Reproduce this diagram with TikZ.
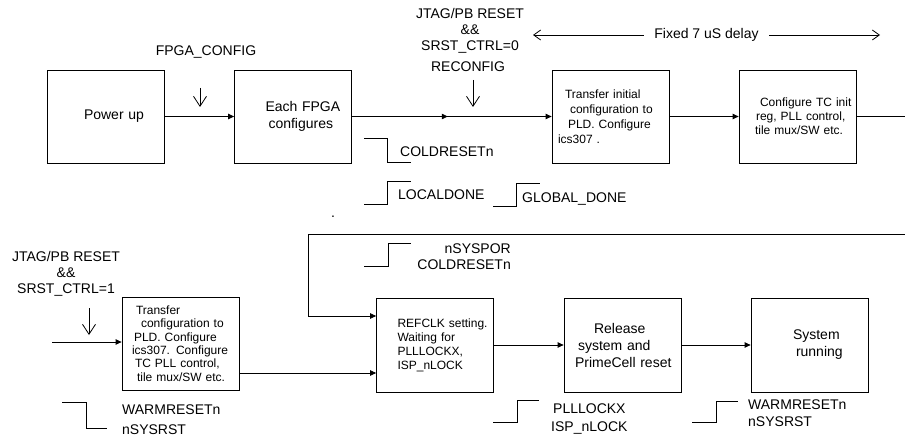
\documentclass[tikz,border=0pt]{standalone}
\usepackage{fontspec}
\setmainfont{Liberation Sans}
\usepackage{tikz}
\usetikzlibrary{arrows.meta}
\usetikzlibrary{decorations.markings}

\tikzset{
  box/.style={draw, line width=0.8pt, minimum height=93pt, text width=109pt,
    inner xsep=4pt, align=left, font=\fontsize{12}{14}\selectfont},
  bigbox/.style={box, font=\fontsize{14}{17}\selectfont},
  lbl/.style={font=\fontsize{14}{16}\selectfont, inner sep=0pt},
  wire/.style={line width=0.8pt},
  conn/.style={line width=0.8pt, -{Triangle[length=6pt,width=5.5pt]}},
  sig/.style={line width=0.8pt, -{Straight Barb[length=10pt,width=13pt]}},
  delayarr/.style={line width=0.8pt,
    {Straight Barb[length=7pt,width=10pt]}-{Straight Barb[length=7pt,width=10pt]}},
  midarrow/.style={postaction={decorate}, decoration={markings,
    mark=at position #1 with {\arrow{Triangle[length=6pt,width=5.5pt]}}}},
}

\begin{document}
\begin{tikzpicture}[x=1pt, y=-1pt]
      \useasboundingbox (0,0) rectangle (905,441);
      \node[bigbox] (pwr) at (105.5,116.5) {\hspace*{33pt}Power up};
      \node[bigbox] (fpga) at (293,116.5) {\hspace*{27pt}Each FPGA\\\hspace*{30pt}configures};
      \node[box, font=\fontsize{12}{15}\selectfont] (xferinit) at (610.5,116.5)
        {\hspace*{9pt}Transfer initial\\\hspace*{14pt}configuration to\\\hspace*{12pt}PLD. Configure\\\hspace*{2pt}ics307 .};
      \node[box] (tcinit) at (797.5,116.5)
        {\hspace*{17pt}Configure TC init\\\hspace*{13pt}reg,  PLL control,\\\hspace*{12pt}tile mux/SW etc.};
      \node[box, font=\fontsize{12}{13.3}\selectfont] (xfercfg) at (180.5,343.5)
        {\hspace*{10pt}Transfer\\\hspace*{15pt}configuration to\\\hspace*{8pt}PLD. Configure\\\hspace*{6pt}ics307. Configure\\\hspace*{9pt}TC  PLL control,\\\hspace*{11pt}tile mux/SW etc.};
      \node[box, minimum height=94pt] (refclk) at (435,345)
        {\hspace*{17pt}REFCLK setting.\\\hspace*{17pt}Waiting for\\\hspace*{17pt}PLLLOCKX,\\\hspace*{17pt}ISP\_nLOCK};
      \node[bigbox, minimum height=94pt] (release) at (622.5,345)
        {\hspace*{26pt}Release\\\hspace*{10pt}system and\\\hspace*{7pt}PrimeCell reset};
      \node[bigbox, minimum height=94pt] (running) at (809.5,345)
        {\hspace*{38pt}System\\\hspace*{41pt}running};

      \coordinate (edgetop) at (905,116.5);
      \coordinate (edgeret) at (905,234);
      \coordinate (inleft) at (52,342);
      \draw[conn] (pwr) -- (fpga);
      \draw[conn, midarrow=0.48] (fpga) -- (xferinit);
      \draw[conn] (xferinit) -- (tcinit);
      \draw[wire] (tcinit) -- (edgetop);
      \draw[conn] (edgeret) -- (308,234) -- (308,316) -- (refclk.west |- 0,316);
      \draw[conn] (inleft) -- (xfercfg.west |- inleft);
      \draw[conn] (xfercfg.east |- 0,373) -- (refclk.west |- 0,373);
      \draw[conn] (refclk) -- (release);
      \draw[conn] (release) -- (running);

      \node[lbl] (fpgacfg) at (206,52) {FPGA\_CONFIG};
      \draw[sig] (200,88) -- (200,107);
      \node[lbl, align=center] (jtagtop) at (470,31) {JTAG/PB RESET\\\&\&\\SRST\_CTRL=0};
      \node[lbl] (reconfig) at (468,67) {RECONFIG};
      \draw[sig] (473,80) -- (473,107);
      \draw[delayarr] (533,35) -- (880,35)
        node[lbl, pos=0.5, fill=white, inner xsep=10pt] (delay) {Fixed 7 uS delay};

      \draw[wire] (364,138) -- (387,138) -- (387,162) -- (411,162);
      \node[lbl, anchor=west] (coldrst) at (400,152) {COLDRESETn};
      \draw[wire] (364,204) -- (387,204) -- (387,181) -- (411,181);
      \node[lbl, anchor=west] (localdone) at (398,195) {LOCALDONE};
      \draw[wire] (493,206) -- (516,206) -- (516,183) -- (540,183);
      \node[lbl, anchor=west] (globaldone) at (522,199) {GLOBAL\_DONE};
      \node[lbl] (dot) at (333,217) {.};

      \node[lbl, align=center] (jtagbot) at (66,274) {JTAG/PB RESET\\\&\&\\SRST\_CTRL=1};
      \draw[sig] (89,308) -- (89,335);
      \draw[wire] (364,266) -- (388,266) -- (388,243) -- (411,243);
      \node[lbl, align=right, anchor=east] (syspor) at (511,257) {nSYSPOR\\COLDRESETn};
      \draw[wire] (62,402) -- (86,402) -- (86,428) -- (107,428);
      \node[lbl, align=left, anchor=west] (warmleft) at (122,420) {WARMRESETn\\[4pt]nSYSRST};
      \draw[wire] (493,422) -- (517,422) -- (517,400) -- (539,400);
      \node[lbl, align=left, anchor=west] (plllock) at (551,419) {\hspace*{2pt}PLLLOCKX\\[2pt]ISP\_nLOCK};
      \draw[wire] (692,422) -- (716,422) -- (716,401) -- (738,401);
      \node[lbl, align=left, anchor=west] (warmright) at (748,413.5) {WARMRESETn\\[1pt]nSYSRST};
\end{tikzpicture}
\end{document}
